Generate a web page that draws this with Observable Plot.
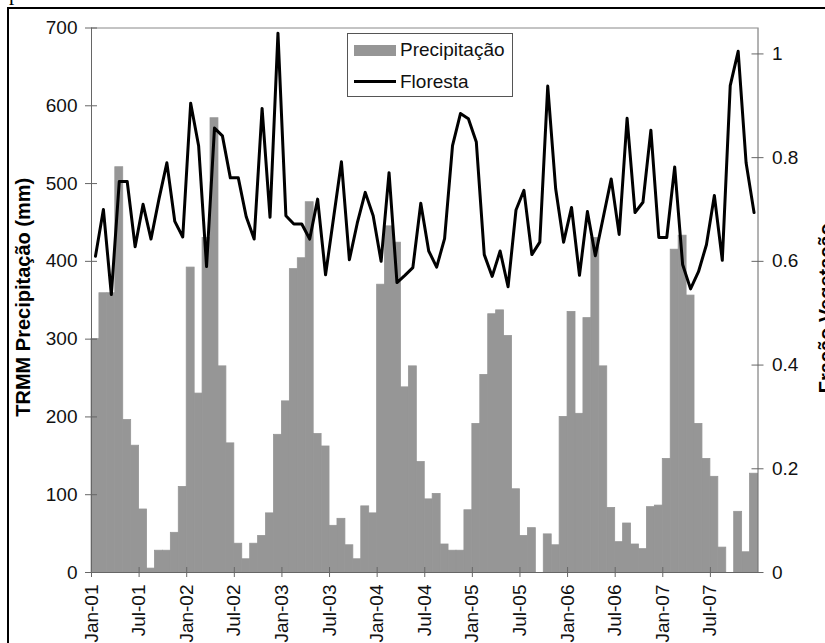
<!DOCTYPE html>
<html>
<head>
<meta charset="utf-8">
<script src="https://cdn.jsdelivr.net/npm/d3@7"></script>
<script src="https://cdn.jsdelivr.net/npm/@observablehq/plot@0.6"></script>
<style>
  html, body { margin: 0; padding: 0; overflow: hidden; background: white; }
  #wrap { position: relative; width: 825px; height: 643px; overflow: hidden; background: white; }
  #wrap svg.layer { position: absolute; left: 0; top: 0; }
  .abs { position: absolute; }
  .lg { font-family: "Liberation Sans", Arial, sans-serif; font-size: 19px; line-height: 19px; color: #111; white-space: nowrap; }
</style>
</head>
<body>
<div id="wrap">
  <div class="abs" style="left:7px; top:7px; width:900px; height:700px; border:2px solid #000;"></div>
  <svg class="abs" style="left:0; top:0;" width="40" height="12"><text x="9" y="0" font-family="Liberation Serif, Times New Roman, serif" font-size="21" fill="#000">p</text></svg>
</div>
<script>
// ---- data (monthly, Jan-01 .. Dec-07) ----
const precipitacao = [
  300, 359, 359, 521, 196, 163, 81, 5, 28, 28, 51, 110,
  392, 230, 430, 584, 265, 166, 37, 17, 37, 47, 76, 177,
  220, 390, 404, 476, 178, 162, 60, 69, 35, 17, 85, 76,
  370, 445, 424, 238, 265, 142, 94, 101, 36, 28, 28, 80,
  191, 254, 332, 337, 304, 107, 47, 57, 0, 49, 35, 200,
  335, 204, 327, 430, 265, 83, 39, 63, 36, 30, 84, 86,
  146, 415, 433, 356, 191, 146, 123, 32, 0, 78, 26, 127
];
const floresta = [
  0.61, 0.70, 0.536, 0.754, 0.754, 0.628, 0.71, 0.643, 0.72, 0.79, 0.677, 0.647,
  0.905, 0.823, 0.59, 0.857, 0.842, 0.761, 0.761, 0.686, 0.643, 0.895, 0.685, 1.04,
  0.688, 0.672, 0.672, 0.643, 0.72, 0.574, 0.683, 0.792, 0.603, 0.674, 0.733, 0.688,
  0.60, 0.771, 0.559, 0.573, 0.588, 0.712, 0.62, 0.589, 0.644, 0.823, 0.885, 0.875,
  0.830, 0.613, 0.571, 0.620, 0.551, 0.699, 0.737, 0.613, 0.637, 0.938, 0.740, 0.637,
  0.704, 0.573, 0.696, 0.611, 0.685, 0.759, 0.652, 0.876, 0.694, 0.714, 0.853, 0.646,
  0.646, 0.782, 0.594, 0.547, 0.580, 0.632, 0.727, 0.602, 0.939, 1.005, 0.790, 0.694
];
const xTickLabels = ["Jan-01","Jul-01","Jan-02","Jul-02","Jan-03","Jul-03","Jan-04","Jul-04","Jan-05","Jul-05","Jan-06","Jul-06","Jan-07","Jul-07"];
const leftTicks = [0, 100, 200, 300, 400, 500, 600, 700];
const rightTicks = [0, 0.2, 0.4, 0.6, 0.8, 1];
const rightTickLabels = ["0", "0.2", "0.4", "0.6", "0.8", "1"];
const seriesNames = ["Precipitação", "Floresta"];
const leftTitle = "TRMM Precipitação (mm)";
const rightTitle = "Fração Vegetação";

const rows = precipitacao.map((p, i) => ({i, p, f: floresta[i]}));
const xTicks = xTickLabels.map((_, k) => k * 6);

const W = 825, H = 643;
const margins = {marginLeft: 91, marginRight: 67.5, marginTop: 27.5, marginBottom: 71};
const font = "Liberation Sans, Arial, sans-serif";
const axisCol = "#666";

const baseStyle = {fontFamily: font, fontSize: "19px", color: "#111", background: "transparent", overflow: "visible"};

const p1 = Plot.plot({
  width: W, height: H, ...margins,
  style: baseStyle,
  x: {domain: [0, 84], axis: null},
  y: {domain: [0, 700], axis: null},
  marks: [
    Plot.rectY(rows.filter(d => d.p > 0), {x1: "i", x2: d => d.i + 1, y: "p", fill: "#969696",
      stroke: "#969696", strokeWidth: 0.8, inset: 0}),
    Plot.ruleY([700], {stroke: "#888"}),
    Plot.ruleY([0], {stroke: axisCol}),
    Plot.ruleX([0], {stroke: axisCol}),
    Plot.ruleY(leftTicks, {y: d => d, x1: 0, x2: 0, insetLeft: 6, insetRight: 6, stroke: axisCol}),
    Plot.ruleX(xTicks, {x: d => d, y1: 0, y2: 0, insetTop: 5, insetBottom: 5, stroke: axisCol}),
    Plot.axisY(leftTicks, {anchor: "left", label: null, tickSize: 0, tickPadding: 14, fontSize: 19}),
    Plot.axisX(xTicks, {anchor: "bottom", label: null, tickSize: 0, tickPadding: 12, tickRotate: -90, fontSize: 19,
      tickFormat: d => xTickLabels[Math.round(d / 6)]}),
    Plot.text([leftTitle], {frameAnchor: "left", text: d => d, dx: -68, dy: -3, rotate: -90,
      textAnchor: "middle", fontWeight: "bold", fontSize: 20, fill: "#000"})
  ]
});
p1.classList.add("layer");

const p2 = Plot.plot({
  width: W, height: H, ...margins,
  style: baseStyle,
  x: {domain: [0, 84], axis: null},
  y: {domain: [0, 1.05], axis: null},
  marks: [
    Plot.ruleX([84], {stroke: axisCol}),
    Plot.ruleY(rightTicks, {y: d => d, x1: 84, x2: 84, insetLeft: 6, insetRight: 6, stroke: axisCol}),
    Plot.axisY(rightTicks, {anchor: "right", label: null, tickSize: 0, tickPadding: 14, fontSize: 19,
      tickFormat: d => rightTickLabels[rightTicks.indexOf(d)]}),
    Plot.line(rows, {x: d => d.i + 0.5, y: "f", stroke: "#000", strokeWidth: 3, strokeLinejoin: "round"}),
    Plot.text([rightTitle], {frameAnchor: "right", text: d => d, dx: 68.5, dy: 8, rotate: -90,
      textAnchor: "middle", fontWeight: "bold", fontSize: 20, fill: "#000"})
  ]
});
p2.classList.add("layer");

const wrap = document.getElementById("wrap");
wrap.appendChild(p1);
wrap.appendChild(p2);

// legend
const lg = document.createElement("div");
lg.innerHTML = `
  <div class="abs" style="left:347px; top:33px; width:166px; height:64px; border:1px solid #555; background:#fff; box-sizing:border-box;"></div>
  <div class="abs" style="left:354px; top:45px; width:42px; height:11px; background:#969696;"></div>
  <div class="abs lg" style="left:400px; top:40px;">${seriesNames[0]}</div>
  <div class="abs" style="left:354px; top:80px; width:42px; height:3px; background:#000;"></div>
  <div class="abs lg" style="left:400px; top:72px;">${seriesNames[1]}</div>`;
wrap.appendChild(lg);
</script>
</body>
</html>
